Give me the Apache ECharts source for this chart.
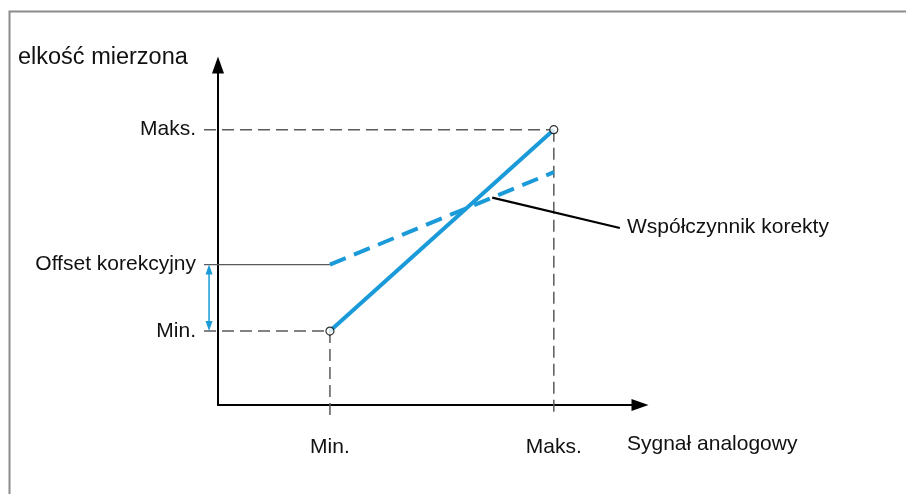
<!DOCTYPE html>
<html><head><meta charset="utf-8">
<script src="https://cdn.jsdelivr.net/npm/echarts@6/dist/echarts.min.js"></script>
<style>html,body{margin:0;padding:0;background:#fff}#c{width:906px;height:494px}</style>
</head><body><div id="c"></div>
<script>
// ---- data ----
const xTickLabels = ['Min.', 'Maks.'];
const xTickValues = [1, 3];
const yTickLabels = ['Min.', 'Offset korekcyjny', 'Maks.'];
const yTickValues = [20, 38, 74.5];
const signalX = [1, 3];
const measuredY = [20, 74.5];      // solid line (without correction)
const correctedY = [38, 63];       // dashed line (with offset & factor)
const leaderFrom = [2.45, 56.1];   // point on dashed line
const leaderTo = [3.59, 47.9];
const xAxisMax = 3.77, yAxisMax = 92;
const yName = 'elkość mierzona';
const xName = 'Sygnał analogowy';
const factorLabel = 'Współczynnik korekty';

const FONT = '"Liberation Sans", Arial, sans-serif';
const BLUE = '#1a9ad8';
const GUIDE = '#5a5a5a';
const xGuideLeft = -0.125;   // guide lines start left of the y axis
const yGuideBottom = -2.7;   // vertical guides reach below x axis
const arrowX = -0.08;

const chart = echarts.init(document.getElementById('c'), null, {renderer: 'canvas'});

// custom series drawing straight segments between two data points (via api.coord)
function segSeries(segments, style, z) {
  return {
    type: 'custom', silent: true, clip: false, z: z || 1,
    data: segments.map(s => [s[0][0], s[0][1], s[1][0], s[1][1]]),
    renderItem: (params, api) => {
      const p1 = api.coord([api.value(0), api.value(1)]);
      const p2 = api.coord([api.value(2), api.value(3)]);
      return {type: 'line', shape: {x1: p1[0], y1: p1[1], x2: p2[0], y2: p2[1]},
        style: Object.assign({fill: null}, style)};
    }
  };
}

// double-headed vertical arrow between two values
function doubleArrowSeries(x, yA, yB, color) {
  return {
    type: 'custom', silent: true, clip: false, z: 2,
    data: [[x, yA, yB]],
    renderItem: (params, api) => {
      const a = api.coord([api.value(0), api.value(1)]);
      const b = api.coord([api.value(0), api.value(2)]);
      const dir = b[1] > a[1] ? 1 : -1;
      const hl = 10, hw = 3.5;
      return {type: 'group', children: [
        {type: 'line', shape: {x1: a[0], y1: a[1] + dir * 4, x2: b[0], y2: b[1] - dir * 4},
          style: {stroke: color, lineWidth: 1.5}},
        {type: 'polygon', shape: {points: [[a[0], a[1]], [a[0] - hw, a[1] + dir * hl], [a[0] + hw, a[1] + dir * hl]]},
          style: {fill: color}},
        {type: 'polygon', shape: {points: [[b[0], b[1]], [b[0] - hw, b[1] - dir * hl], [b[0] + hw, b[1] - dir * hl]]},
          style: {fill: color}}
      ]};
    }
  };
}

const dashedGuide = {stroke: GUIDE, lineWidth: 1.5, lineDash: [12, 6]};

const option = {
  animation: false,
  textStyle: {fontFamily: FONT},
  title: {
    text: yName, left: 18, top: 46, padding: 0,
    textStyle: {fontFamily: FONT, fontSize: 23.5, fontWeight: 'normal', color: '#111'}
  },
  graphic: [
    {type: 'rect', shape: {x: 9.5, y: 11.5, width: 1000, height: 1000},
     style: {fill: 'none', stroke: '#8c8c8c', lineWidth: 2}, z: -1},
    {type: 'text', left: 627, top: 434,
     style: {text: xName, font: '21px ' + FONT, fill: '#111'}},
    {type: 'text', left: 627, top: 217,
     style: {text: factorLabel, font: '21px ' + FONT, fill: '#111'}}
  ],
  grid: {left: 218, top: 65, width: 422, height: 340, containLabel: false},
  xAxis: {
    type: 'value', min: 0, max: xAxisMax,
    splitLine: {show: false},
    axisLine: {show: true, lineStyle: {color: '#000', width: 2},
      symbol: ['none', 'triangle'], symbolSize: [12, 17]},
    axisTick: {show: false},
    axisLabel: {show: true, customValues: xTickValues, margin: 32,
      formatter: v => xTickLabels[xTickValues.indexOf(v)] || '',
      fontSize: 21, color: '#111', fontFamily: FONT}
  },
  yAxis: {
    type: 'value', min: 0, max: yAxisMax,
    splitLine: {show: false},
    axisLine: {show: true, lineStyle: {color: '#000', width: 2},
      symbol: ['none', 'triangle'], symbolSize: [12, 17]},
    axisTick: {show: false},
    axisLabel: {show: true, customValues: yTickValues, margin: 22,
      formatter: v => yTickLabels[yTickValues.indexOf(v)] || '',
      fontSize: 21, color: '#111', fontFamily: FONT}
  },
  series: [
    segSeries([
      [[xGuideLeft, yTickValues[0]], [signalX[0], measuredY[0]]],
      [[xGuideLeft, yTickValues[2]], [signalX[1], measuredY[1]]],
      [[xTickValues[0], measuredY[0]], [xTickValues[0], yGuideBottom]],
      [[xTickValues[1], measuredY[1]], [xTickValues[1], yGuideBottom]]
    ], dashedGuide),
    segSeries([[[xGuideLeft, yTickValues[1]], [signalX[0], correctedY[0]]]],
      {stroke: GUIDE, lineWidth: 1.3}),
    segSeries([[leaderFrom, leaderTo]], {stroke: '#000', lineWidth: 2.2}),
    doubleArrowSeries(arrowX, yTickValues[1], yTickValues[0], BLUE),
    {
      name: 'corrected', type: 'line', clip: false, symbol: 'none',
      lineStyle: {color: BLUE, width: 4, type: [17, 9]},
      data: signalX.map((x, i) => [x, correctedY[i]]), z: 3
    },
    {
      name: 'measured', type: 'line', clip: false, symbol: 'none',
      lineStyle: {color: BLUE, width: 4},
      data: signalX.map((x, i) => [x, measuredY[i]]), z: 3
    },
    {
      type: 'scatter', clip: false, symbol: 'circle', symbolSize: 8,
      itemStyle: {color: '#fff', borderColor: '#000', borderWidth: 1.2},
      data: signalX.map((x, i) => [x, measuredY[i]]), z: 5
    }
  ]
};
chart.setOption(option);
</script></body></html>
